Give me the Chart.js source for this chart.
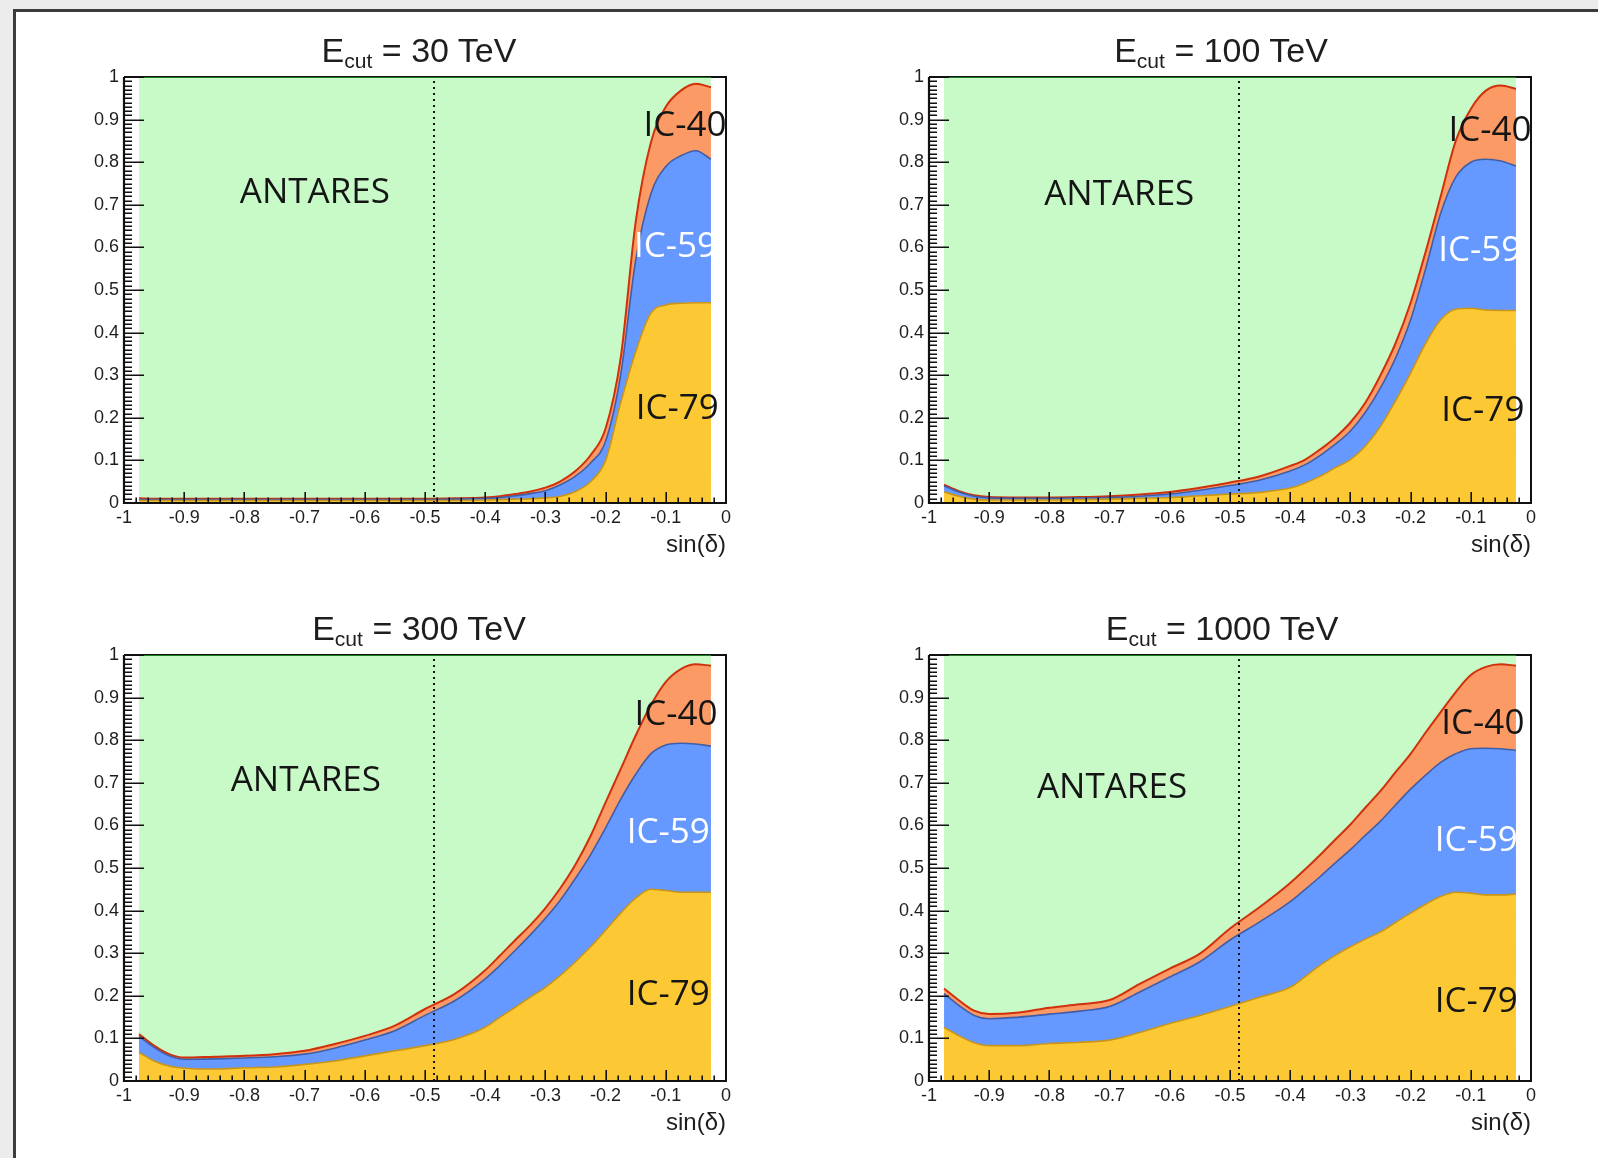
<!DOCTYPE html>
<html>
<head>
<meta charset="utf-8">
<script src="https://cdn.jsdelivr.net/npm/chart.js@4.4.1/dist/chart.umd.min.js"></script>
<style>
  html, body { margin: 0; padding: 0; }
  body { width: 1598px; height: 1158px; background: #ececec; position: relative; overflow: hidden; font-family: 'Liberation Sans', Arial, sans-serif; }
  #sheet { position: absolute; left: 13px; top: 9px; width: 1700px; height: 1300px; background: #fff;
           border-left: 3px solid #3c3c3c; border-top: 3px solid #3c3c3c; box-sizing: border-box; }
  canvas { position: absolute; filter: blur(0.4px); }
  .ttl { position: absolute; width: 460px; text-align: center; font-family: 'Liberation Sans', Arial, sans-serif;
         font-size: 34px; line-height: 34px; color: #1e1e1e; white-space: nowrap; filter: blur(0.4px); }
  .ttl sub { font-size: 0.62em; vertical-align: -0.3em; line-height: 0; }
</style>
</head>
<body>
<div id="sheet"></div>

<script>
// ---------------- DATA ----------------
const sinDec = [-0.975,-0.95,-0.925,-0.9,-0.85,-0.8,-0.75,-0.7,-0.65,-0.6,-0.55,-0.5,-0.45,-0.4,-0.375,-0.35,-0.325,-0.3,-0.275,-0.25,-0.225,-0.2,-0.175,-0.15,-0.125,-0.1,-0.075,-0.05,-0.025];

const xTickLabels = ['-1','-0.9','-0.8','-0.7','-0.6','-0.5','-0.4','-0.3','-0.2','-0.1','0'];
const yTickLabels = ['0','0.1','0.2','0.3','0.4','0.5','0.6','0.7','0.8','0.9','1'];
const seriesNames = ['IC-79','IC-59','IC-40','ANTARES'];
const energyCuts = ['30','100','300','1000'];
const xAxisTitle = 'sin(δ)';
const antaresLimit = -0.485;

// E_cut = 30 TeV
const ic79_30    = [0.006,0.006,0.006,0.006,0.006,0.006,0.006,0.006,0.006,0.006,0.006,0.006,0.006,0.007,0.008,0.009,0.010,0.012,0.016,0.027,0.050,0.100,0.235,0.355,0.445,0.465,0.469,0.470,0.470];
const ic59_30    = [0.002,0.002,0.002,0.002,0.002,0.002,0.002,0.002,0.002,0.002,0.002,0.002,0.003,0.004,0.005,0.008,0.012,0.017,0.027,0.036,0.044,0.045,0.065,0.215,0.280,0.325,0.346,0.357,0.337];
const ic40_30    = [0.003,0.002,0.002,0.002,0.002,0.002,0.002,0.002,0.002,0.002,0.002,0.002,0.002,0.002,0.003,0.004,0.005,0.007,0.008,0.012,0.018,0.030,0.040,0.090,0.120,0.140,0.153,0.157,0.169];
const antares_30 = [0.989,0.990,0.990,0.990,0.990,0.990,0.990,0.990,0.990,0.990,0.990,0.990,0.989,0.987,0.984,0.979,0.973,0.964,0.949,0.925,0.888,0.825,0.660,0.340,0.155,0.070,0.032,0.016,0.024];

// E_cut = 100 TeV
const ic79_100    = [0.026,0.016,0.009,0.007,0.007,0.007,0.008,0.009,0.011,0.013,0.017,0.021,0.025,0.035,0.047,0.063,0.083,0.102,0.134,0.180,0.240,0.305,0.375,0.430,0.455,0.457,0.453,0.452,0.452];
const ic59_100    = [0.014,0.010,0.007,0.005,0.004,0.004,0.004,0.004,0.005,0.008,0.013,0.020,0.029,0.040,0.043,0.049,0.055,0.067,0.079,0.090,0.100,0.125,0.175,0.250,0.310,0.343,0.354,0.351,0.339];
const ic40_100    = [0.003,0.002,0.002,0.002,0.002,0.002,0.002,0.003,0.004,0.005,0.006,0.007,0.009,0.012,0.012,0.014,0.016,0.020,0.023,0.030,0.035,0.040,0.040,0.040,0.085,0.125,0.161,0.177,0.181];
const antares_100 = [0.957,0.972,0.982,0.986,0.987,0.987,0.986,0.984,0.980,0.974,0.964,0.952,0.937,0.913,0.898,0.874,0.846,0.811,0.764,0.700,0.625,0.530,0.410,0.280,0.150,0.075,0.032,0.020,0.028];

// E_cut = 300 TeV
const ic79_300    = [0.067,0.047,0.035,0.030,0.028,0.031,0.033,0.039,0.047,0.059,0.071,0.083,0.098,0.126,0.150,0.173,0.197,0.220,0.248,0.280,0.315,0.354,0.394,0.429,0.450,0.447,0.443,0.443,0.443];
const ic59_300    = [0.038,0.032,0.024,0.021,0.024,0.023,0.024,0.024,0.030,0.037,0.047,0.071,0.091,0.114,0.122,0.134,0.146,0.162,0.177,0.196,0.216,0.240,0.267,0.291,0.318,0.342,0.350,0.348,0.343];
const ic40_300    = [0.005,0.004,0.004,0.004,0.005,0.005,0.006,0.008,0.010,0.010,0.012,0.015,0.016,0.020,0.023,0.024,0.023,0.024,0.028,0.032,0.044,0.060,0.071,0.091,0.114,0.148,0.174,0.187,0.189];
const antares_300 = [0.890,0.917,0.937,0.945,0.943,0.941,0.937,0.929,0.913,0.894,0.870,0.831,0.795,0.740,0.705,0.669,0.634,0.594,0.547,0.492,0.425,0.346,0.268,0.189,0.118,0.063,0.033,0.022,0.025];

// E_cut = 1000 TeV
const ic79_1000    = [0.126,0.106,0.090,0.083,0.083,0.088,0.091,0.096,0.114,0.135,0.154,0.175,0.197,0.220,0.245,0.272,0.295,0.315,0.333,0.350,0.372,0.394,0.415,0.433,0.443,0.441,0.437,0.437,0.439];
const ic59_1000    = [0.079,0.071,0.064,0.063,0.067,0.069,0.073,0.079,0.095,0.109,0.126,0.156,0.177,0.201,0.205,0.208,0.217,0.228,0.244,0.260,0.276,0.291,0.303,0.315,0.325,0.339,0.344,0.343,0.337];
const ic40_1000    = [0.012,0.012,0.011,0.011,0.011,0.015,0.016,0.015,0.019,0.020,0.019,0.027,0.035,0.044,0.047,0.051,0.055,0.059,0.065,0.071,0.077,0.083,0.100,0.118,0.145,0.173,0.191,0.198,0.199];
const antares_1000 = [0.783,0.811,0.835,0.843,0.839,0.828,0.820,0.810,0.772,0.736,0.701,0.642,0.591,0.535,0.503,0.469,0.433,0.398,0.358,0.319,0.275,0.232,0.182,0.134,0.087,0.047,0.028,0.022,0.025];

// ---------------- STYLE / LAYOUT ----------------
const fills   = ['#fcc934', '#6699ff', '#fc9a66', '#c8fac8'];
const borders = ['#c8951a', '#3f5ea8', '#d0300a', '#1f7a1f'];
const bwidths = [1.6, 1.6, 2, 2];

const panels = [
  { cut: energyCuts[0], data: [ic79_30, ic59_30, ic40_30, antares_30],
    left: 14, top: 57, titleX: 419, titleY: 33,
    labels: [['ANTARES', -0.683, 0.728, '#151515'], ['IC-40', -0.068, 0.886, '#151515'], ['IC-59', -0.084, 0.602, '#ffffff'], ['IC-79', -0.081, 0.221, '#151515']] },
  { cut: energyCuts[1], data: [ic79_100, ic59_100, ic40_100, antares_100],
    left: 819, top: 57, titleX: 1221, titleY: 33,
    labels: [['ANTARES', -0.684, 0.722, '#151515'], ['IC-40', -0.068, 0.874, '#151515'], ['IC-59', -0.085, 0.592, '#ffffff'], ['IC-79', -0.080, 0.216, '#151515']] },
  { cut: energyCuts[2], data: [ic79_300, ic59_300, ic40_300, antares_300],
    left: 14, top: 635, titleX: 419, titleY: 611,
    labels: [['ANTARES', -0.698, 0.704, '#151515'], ['IC-40', -0.083, 0.860, '#151515'], ['IC-59', -0.096, 0.582, '#ffffff'], ['IC-79', -0.096, 0.202, '#151515']] },
  { cut: energyCuts[3], data: [ic79_1000, ic59_1000, ic40_1000, antares_1000],
    left: 819, top: 635, titleX: 1222, titleY: 611,
    labels: [['ANTARES', -0.696, 0.688, '#151515'], ['IC-40', -0.080, 0.838, '#151515'], ['IC-59', -0.091, 0.563, '#ffffff'], ['IC-79', -0.091, 0.185, '#151515']] }
];

const CW = 742, CH = 516;
const tickFont = { family: '"Liberation Sans", Arial, sans-serif', size: 18 };

const rootStyle = {
  id: 'rootStyle',
  beforeDatasetsDraw(chart) {
    const { ctx, chartArea: a } = chart;
    ctx.save();
    ctx.strokeStyle = '#111';
    ctx.lineWidth = 2;
    ctx.beginPath();
    ctx.moveTo(a.left, a.top); ctx.lineTo(a.right, a.top); ctx.lineTo(a.right, a.bottom);
    ctx.stroke();
    ctx.restore();
  },
  afterDatasetsDraw(chart, args, opts) {
    const { ctx, chartArea: a, scales: { x, y } } = chart;
    ctx.save();
    // ANTARES visibility limit (dotted)
    const xd = x.getPixelForValue(opts.limit);
    ctx.strokeStyle = '#111';
    ctx.lineWidth = 2;
    ctx.setLineDash([2, 4]);
    ctx.beginPath();
    ctx.moveTo(xd, y.getPixelForValue(0)); ctx.lineTo(xd, y.getPixelForValue(1));
    ctx.stroke();
    ctx.setLineDash([]);
    // axes lines
    ctx.lineWidth = 2.2;
    ctx.beginPath();
    ctx.moveTo(a.left, a.top); ctx.lineTo(a.left, a.bottom); ctx.lineTo(a.right + 1, a.bottom);
    ctx.stroke();
    // y ticks (inward)
    ctx.lineWidth = 1.6;
    ctx.beginPath();
    for (let k = 0; k <= 100; k++) {
      const py = Math.round(y.getPixelForValue(k / 100)) + 0.2;
      const len = (k % 10 === 0) ? 20 : 8;
      ctx.moveTo(a.left, py); ctx.lineTo(a.left + len, py);
    }
    ctx.stroke();
    // x ticks (upward)
    ctx.beginPath();
    for (let k = 0; k <= 50; k++) {
      const px = Math.round(x.getPixelForValue(-1 + k / 50)) + 0.2;
      const len = (k % 5 === 0) ? 11 : 5.5;
      ctx.moveTo(px, a.bottom); ctx.lineTo(px, a.bottom - len);
    }
    ctx.stroke();
    // region labels
    ctx.font = '35px "Open Sans", "Liberation Sans", sans-serif';
    ctx.textAlign = 'center';
    ctx.textBaseline = 'middle';
    for (const [t, lx, ly, col] of opts.labels) {
      ctx.fillStyle = col;
      ctx.fillText(t, x.getPixelForValue(lx), y.getPixelForValue(ly));
    }
    ctx.restore();
  }
};

panels.forEach((p) => {
  const cv = document.createElement('canvas');
  cv.width = CW; cv.height = CH;
  cv.style.left = p.left + 'px'; cv.style.top = p.top + 'px';
  cv.style.width = CW + 'px'; cv.style.height = CH + 'px';
  document.body.appendChild(cv);

  const t = document.createElement('div');
  t.className = 'ttl';
  t.style.left = (p.titleX - 230) + 'px';
  t.style.top = p.titleY + 'px';
  t.innerHTML = 'E<sub>cut</sub> = ' + p.cut + ' TeV';
  document.body.appendChild(t);

  const datasets = seriesNames.map((name, s) => ({
    label: name,
    data: sinDec.map((xv, i) => ({ x: xv, y: p.data[s][i] })),
    backgroundColor: fills[s],
    borderColor: borders[s],
    borderWidth: bwidths[s],
    fill: s === 0 ? 'origin' : '-1',
    pointRadius: 0,
    cubicInterpolationMode: 'monotone'
  }));

  new Chart(cv, {
    type: 'line',
    data: { datasets },
    plugins: [rootStyle],
    options: {
      responsive: false,
      animation: false,
      devicePixelRatio: 1,
      events: [],
      layout: { padding: { left: 50, top: 20, right: 30, bottom: 10 } },
      plugins: {
        legend: { display: false },
        tooltip: { enabled: false },
        rootStyle: { limit: antaresLimit, labels: p.labels }
      },
      scales: {
        x: {
          type: 'linear', min: -1, max: 0,
          afterFit: s => { s.height = 60; },
          grid: { display: false, drawTicks: false },
          border: { display: false },
          ticks: { stepSize: 0.1, autoSkip: false, maxRotation: 0, padding: 4,
                   color: '#1e1e1e', font: tickFont,
                   callback: (v, i) => xTickLabels[i] },
          title: { display: true, text: xAxisTitle, align: 'end', color: '#1e1e1e',
                   font: { family: '"Liberation Sans", Arial, sans-serif', size: 24 },
                   padding: { top: 0, bottom: 3 } }
        },
        y: {
          type: 'linear', min: 0, max: 1, stacked: true,
          afterFit: s => { s.width = 60; },
          grid: { display: false, drawTicks: false },
          border: { display: false },
          ticks: { stepSize: 0.1, autoSkip: false, padding: 5,
                   color: '#1e1e1e', font: tickFont,
                   callback: (v, i) => yTickLabels[i] }
        }
      }
    }
  });
});
</script>
</body>
</html>
